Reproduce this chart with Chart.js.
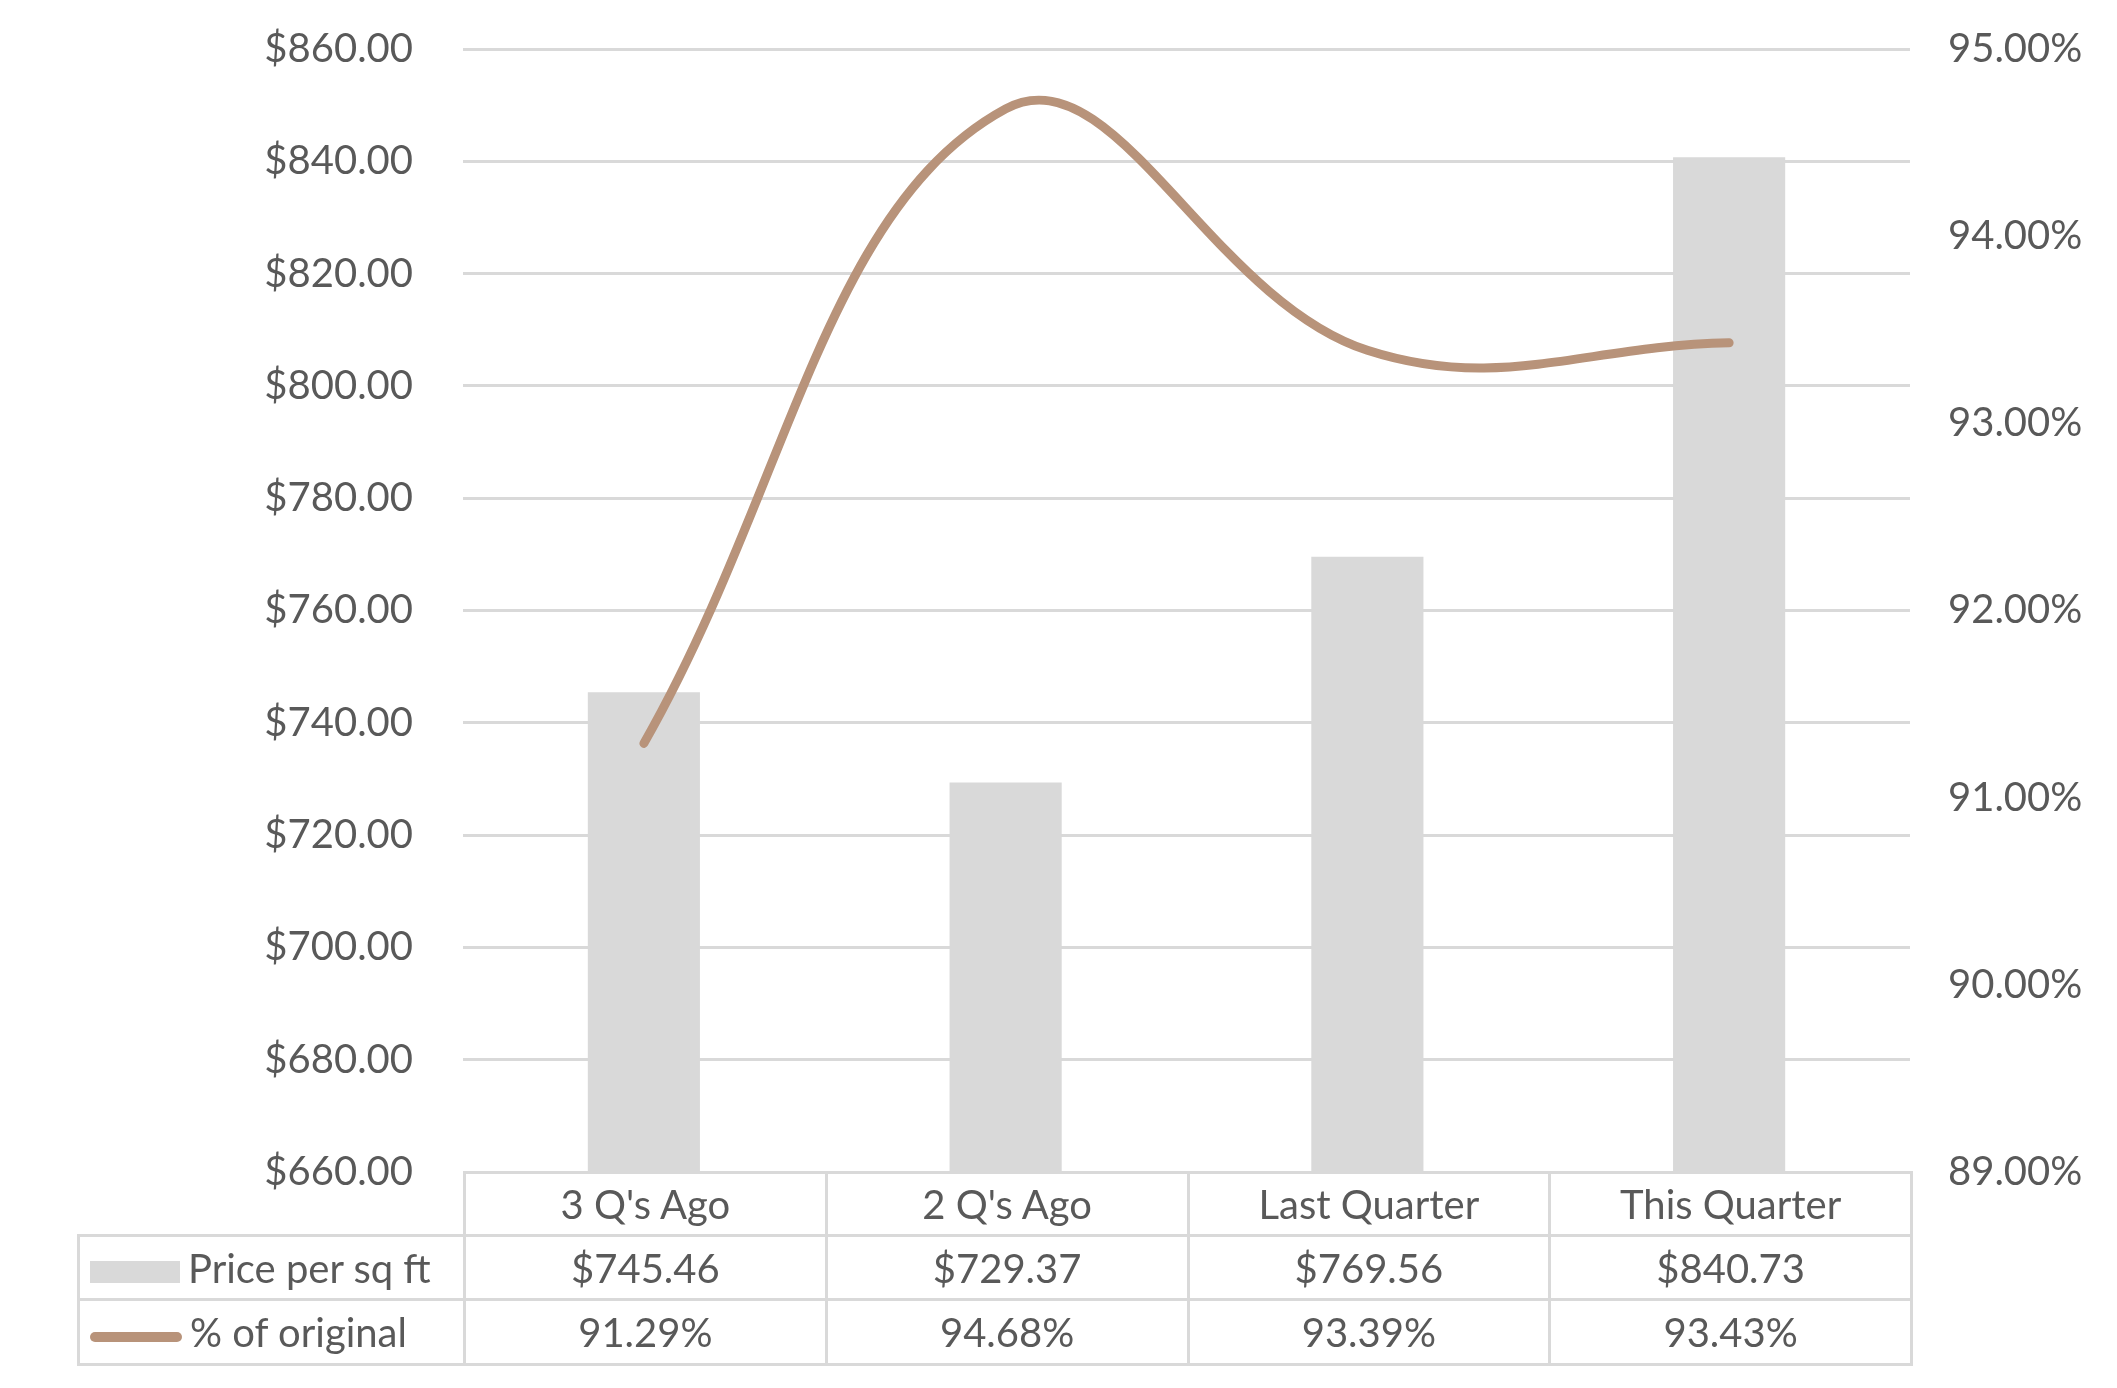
<!DOCTYPE html>
<html lang="en">
<head>
  <meta charset="UTF-8" />
  <title>Price per sq ft</title>
  <script src="https://cdn.jsdelivr.net/npm/chart.js"></script>
<style>
  body {
    margin: 0;
    background: #ffffff;
    font-family: 'Lato', sans-serif;
    overflow: hidden;
  }
  #wrap {
    position: relative;
    width: 2117px;
    height: 1388px;
    overflow: hidden;
  }
  #chart {
    position: absolute;
    left: 0;
    top: 0;
  }
  #dataTable {
    position: absolute;
    border-collapse: collapse;
    table-layout: fixed;
    color: #595959;
    font-size: 40px;
  }
  #dataTable td {
    border: 3px solid #d9d9d9;
    text-align: center;
    padding: 0;
    white-space: nowrap;
  }
  #dataTable td.blank {
    border: none;
  }
  #dataTable td.lead {
    text-align: left;
    padding-left: 10px;
  }
  .swatch {
    display: inline-block;
    vertical-align: middle;
    margin-right: 8px;
  }
</style>
</head>
<body>
  <div id="wrap">
    <canvas id="chart" width="2117" height="1388"></canvas>
    <table id="dataTable"></table>
  </div>

  <script>
    // data
    const categories = ["3 Q's Ago", "2 Q's Ago", "Last Quarter", "This Quarter"];
    const pricePerSqFt = [745.46, 729.37, 769.56, 840.73];
    const pctOfOriginal = [91.29, 94.68, 93.39, 93.43];
    const priceTicks = { min: 660, max: 860, step: 20 };
    const pctTicks = { min: 89, max: 95, step: 1 };

    const barColor = '#d9d9d9';
    const lineColor = '#b8937a';
    const textColor = '#595959';
    const plotTop = 49;      // top gridline in the picture
    const plotBottom = 1172; // bottom gridline / table top

    const ctx = document.getElementById("chart").getContext("2d");
    const chart = new Chart(ctx, {
      type: 'bar',
      data: {
        labels: categories,
        datasets: [
          {
            type: 'line',
            label: '% of original',
            data: pctOfOriginal,
            yAxisID: 'y1',
            borderColor: lineColor,
            borderWidth: 9,
            borderCapStyle: 'round',
            tension: 0.4,
            pointRadius: 0,
            order: 0
          },
          {
            label: 'Price per sq ft',
            data: pricePerSqFt,
            yAxisID: 'y',
            backgroundColor: barColor,
            categoryPercentage: 1,
            barPercentage: 0.31,
            order: 1
          }
        ]
      },
      options: {
        responsive: false,
        animation: false,
        layout: { autoPadding: false, padding: { top: plotTop, bottom: 1388 - plotBottom } },
        plugins: {
          legend: { display: false },
          tooltip: { enabled: false }
        },
        scales: {
          x: { display: false },
          y: {
            position: 'left',
            min: priceTicks.min,
            max: priceTicks.max,
            afterFit: s => { s.width = 463; },
            grid: { color: '#d9d9d9', lineWidth: 3, drawTicks: false },
            border: { display: false },
            ticks: {
              stepSize: priceTicks.step,
              padding: 50,
              color: textColor,
              font: { family: 'Lato', size: 40 },
              callback: v => '$' + v.toFixed(2)
            }
          },
          y1: {
            position: 'right',
            min: pctTicks.min,
            max: pctTicks.max,
            afterFit: s => { s.width = 207; },
            grid: { display: false, drawTicks: false },
            border: { display: false },
            ticks: {
              stepSize: pctTicks.step,
              padding: 38,
              color: textColor,
              font: { family: 'Lato', size: 40 },
              callback: v => v.toFixed(2) + '%'
            }
          }
        }
      }
    });

    // the layout pushes the plot down a little; lift the canvas and stretch the plot back
    let shift = plotTop - chart.chartArea.top;
    chart.options.layout.padding.bottom = 1388 - plotBottom + shift;
    chart.update();
    shift = plotTop - chart.chartArea.top;
    document.getElementById("chart").style.top = shift + 'px';

    // data table under the plot, columns taken from the chart area
    function buildTable() {
      const area = chart.chartArea;
      const colW = (area.right - area.left) / categories.length;
      const tableLeft = 77;
      const table = document.getElementById("dataTable");
      table.style.left = tableLeft + 'px';
      table.style.top = (area.bottom + shift - 1) + 'px';
      table.style.width = (area.right - tableLeft) + 'px';

      let cols = '<colgroup><col style="width:' + (area.left - tableLeft) + 'px">';
      categories.forEach(() => { cols += '<col style="width:' + colW + 'px">'; });
      cols += '</colgroup>';

      const row1 = '<tr style="height:63px"><td class="blank"></td>' +
        categories.map(c => '<td>' + c + '</td>').join('') + '</tr>';
      const row2 = '<tr style="height:64px"><td class="lead">' +
        '<span class="swatch" style="width:90px;height:22px;background:' + barColor + '"></span>Price per sq ft</td>' +
        pricePerSqFt.map(v => '<td>$' + v.toFixed(2) + '</td>').join('') + '</tr>';
      const row3 = '<tr style="height:65px"><td class="lead">' +
        '<span class="swatch" style="width:92px;height:10px;border-radius:5px;background:' + lineColor + '"></span>% of original</td>' +
        pctOfOriginal.map(v => '<td>' + v.toFixed(2) + '%</td>').join('') + '</tr>';

      table.innerHTML = cols + row1 + row2 + row3;
    }
    buildTable();
  </script>
</body>
</html>
